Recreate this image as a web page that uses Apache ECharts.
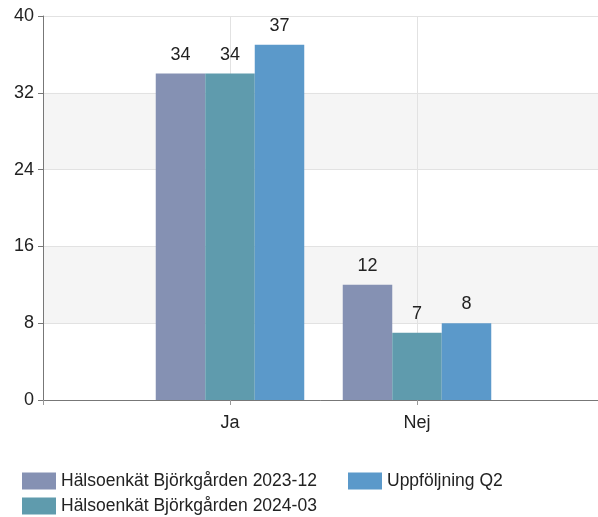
<!DOCTYPE html>
<html>
<head>
<meta charset="utf-8">
<script src="https://cdn.jsdelivr.net/npm/echarts@6/dist/echarts.min.js"></script>
<style>
  html, body { margin: 0; padding: 0; background: #fff; }
  #chart { width: 598px; height: 517px; }
</style>
</head>
<body>
<div id="chart"></div>
<script>
// kategorier (tomma i kanterna för att placera grupperna som i originalet)
let categories = ['', 'Ja', 'Nej', '']
let seriesNames = ['Hälsoenkät Björkgården 2023-12', 'Hälsoenkät Björkgården 2024-03', 'Uppföljning Q2']
let values2312 = [null, 34, 12, null]
let values2403 = [null, 34, 7, null]
let valuesQ2 = [null, 37, 8, null]
let colors = ['#8591b3', '#5f9bad', '#5b99ca']

let myChart = echarts.init(document.getElementById('chart'))
let font = 'Liberation Sans, Arial, sans-serif'

function bar(name, data, color) {
  return {
    name: name,
    type: 'bar',
    data: data,
    barWidth: 49.5,
    barGap: '0%',
    itemStyle: { color: color },
    label: {
      show: true,
      position: 'top',
      distance: 10,
      fontSize: 18,
      fontFamily: font,
      color: '#222'
    }
  }
}

// en legend per post, så att de hamnar i två kolumner som i originalet
function legendItem(name, left, top) {
  return {
    left: left, top: top,
    data: [name],
    itemWidth: 34, itemHeight: 17,
    icon: 'rect',
    textStyle: { fontSize: 17.5, fontFamily: font, color: '#222' }
  }
}

let option = {
  animation: false,
  grid: { left: 43, right: -6, top: 16, bottom: 117, outerBoundsMode: 'none' },
  legend: [
    legendItem(seriesNames[0], 17, 467),
    legendItem(seriesNames[1], 17, 492),
    legendItem(seriesNames[2], 343, 467)
  ],
  xAxis: {
    type: 'category',
    data: categories,
    boundaryGap: false,
    axisLine: { lineStyle: { color: '#777' } },
    axisTick: { show: true, length: 5, lineStyle: { color: '#999' } },
    axisLabel: { fontSize: 18, fontFamily: font, color: '#222', margin: 14 },
    splitLine: { show: true, lineStyle: { color: '#e2e2e2', width: 1 } }
  },
  yAxis: {
    type: 'value',
    min: 0, max: 40, interval: 8,
    axisLine: { show: true, lineStyle: { color: '#777' } },
    axisTick: { show: true, length: 5, lineStyle: { color: '#777' } },
    axisLabel: { fontSize: 18, fontFamily: font, color: '#222', margin: 9 },
    splitLine: { lineStyle: { color: '#e2e2e2' } },
    splitArea: { show: true, areaStyle: { color: ['#ffffff', '#f5f5f5'] } }
  },
  series: [
    bar(seriesNames[0], values2312, colors[0]),
    bar(seriesNames[1], values2403, colors[1]),
    bar(seriesNames[2], valuesQ2, colors[2])
  ]
}

myChart.setOption(option)
</script>
</body>
</html>
